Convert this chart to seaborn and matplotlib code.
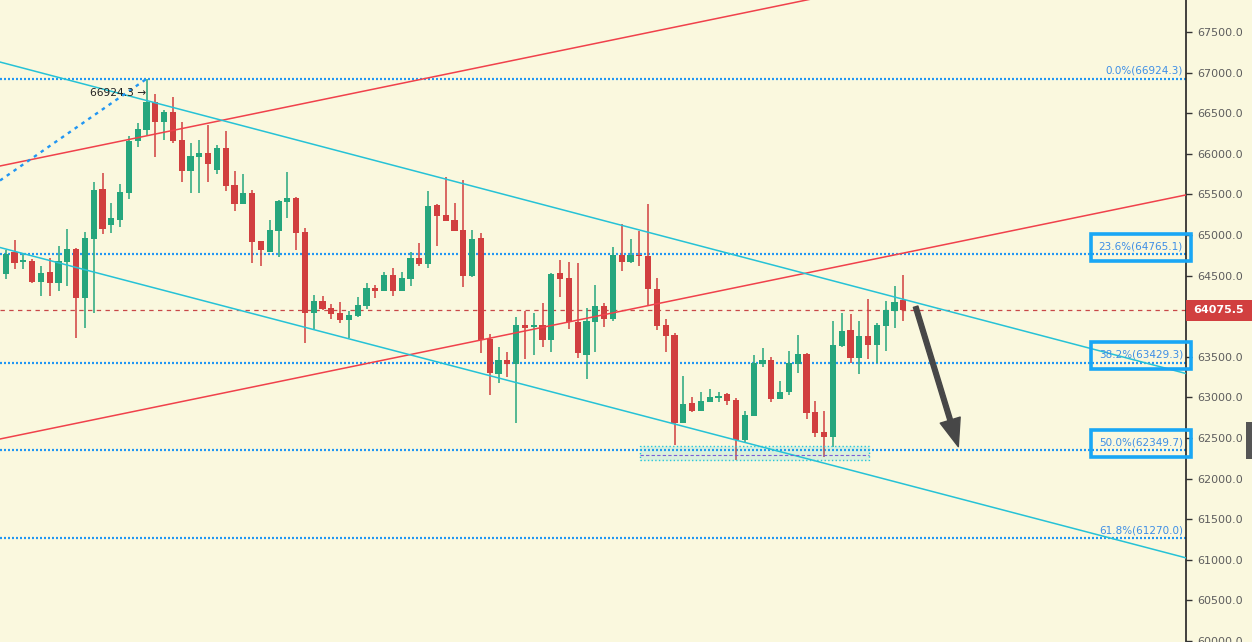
import numpy as np
import pandas as pd
import matplotlib
matplotlib.use("Agg")
import matplotlib.pyplot as plt
from matplotlib.patches import Rectangle, FancyArrowPatch
import seaborn as sns

# ---------------- data ----------------
first_index = -1
opens = [64115, 64520, 64791, 64667, 64680, 64425, 64544, 64413, 64671, 64828,
         64228, 64954, 65566, 65127, 65188, 65521, 66154, 66293, 66634, 66395,
         66515, 66170, 65792, 65964, 66006, 65804, 66071, 65612, 65384, 65517,
         64926, 64793, 65052, 65410, 65459, 65037, 64043, 64187, 64101, 64037,
         63957, 64006, 64129, 64347, 64314, 64507, 64314, 64462, 64717, 64643,
         65369, 65246, 65185, 65062, 64499, 64963, 63715, 63284, 63461, 63408,
         63892, 63866, 63892, 63707, 64532, 64470, 63932, 63526, 63932, 64126,
         63962, 64754, 64671, 64754, 64741, 64335, 63892, 63768, 62681, 62927,
         62836, 62947, 62996, 63042, 62968, 62475, 62771, 63411, 63461, 62977,
         63063, 63411, 63535, 62824, 62574, 62516, 63637, 63830, 63481, 63756,
         63645, 63883, 64068, 64200]
highs = [64560, 64815, 64938, 64778, 64704, 64618, 64717, 64865, 65074, 64840,
         65037, 65653, 65767, 65398, 65624, 66219, 66383, 66924.3, 66733, 66539,
         66703, 66388, 66129, 66176, 66351, 66108, 66277, 65786, 65747, 65548,
         64926, 65185, 65436, 65770, 65466, 65092, 64259, 64249, 64146, 64171,
         64064, 64236, 64405, 64388, 64544, 64593, 64541, 64794, 64898, 65542,
         65378, 65718, 65394, 65677, 65062, 65028, 63781, 63617, 63555, 63994,
         64068, 64043, 64159, 64536, 64692, 64671, 64652, 64097, 64384, 64159,
         64856, 65135, 64947, 65053, 65382, 64467, 63966, 63789, 63264, 63009,
         63070, 63100, 63070, 63050, 62989, 62833, 63522, 63605, 63494, 63202,
         63575, 63769, 63543, 62959, 62833, 63945, 64043, 64022, 63941, 64208,
         63920, 64187, 64376, 64507]
lows = [64050, 64458, 64581, 64581, 64409, 64252, 64252, 64310, 64372, 63732,
        63851, 64036, 65009, 65021, 65102, 65447, 66080, 66228, 65964, 66170,
        66137, 65656, 65514, 65514, 65656, 65748, 65538, 65299, 65379, 64651,
        64622, 64793, 64723, 65206, 64815, 63676, 63839, 64076, 63969, 63920,
        63728, 63994, 64085, 64224, 64314, 64249, 64314, 64372, 64622, 64597,
        64865, 65176, 65053, 64363, 64479, 63551, 63026, 63181, 63255, 62681,
        63469, 63522, 63624, 63556, 64240, 63846, 63481, 63227, 63563, 63871,
        63941, 64560, 64651, 64622, 64138, 63830, 63563, 62414, 62681, 62824,
        62836, 62947, 62943, 62906, 62229, 62455, 62771, 63378, 62947, 62977,
        63030, 63304, 62738, 62509, 62262, 62393, 63624, 63420, 63285, 63469,
        63420, 63575, 63851, 63945]
closes = [64520, 64766, 64655, 64692, 64425, 64532, 64413, 64680, 64828, 64228,
          64963, 65554, 65078, 65209, 65530, 66161, 66302, 66638, 66395, 66515,
          66161, 65792, 65973, 66006, 65878, 66071, 65607, 65386, 65517, 64917,
          64815, 65062, 65419, 65459, 65028, 64043, 64187, 64092, 64031, 63959,
          64015, 64138, 64347, 64314, 64507, 64314, 64470, 64717, 64643, 65357,
          65238, 65176, 65053, 64499, 64951, 63703, 63297, 63461, 63408, 63892,
          63851, 63892, 63703, 64520, 64462, 63929, 63550, 63941, 64126, 63962,
          64754, 64671, 64754, 64741, 64331, 63883, 63760, 62681, 62915, 62836,
          62956, 63001, 63021, 62959, 62475, 62783, 63420, 63461, 62977, 63070,
          63420, 63535, 62812, 62565, 62516, 63645, 63818, 63481, 63756, 63645,
          63892, 64076, 64175, 64075.5]

fib_levels = [66924.3, 64765.1, 63429.3, 62349.7, 61270.0]
fib_labels = ["0.0%(66924.3)", "23.6%(64765.1)", "38.2%(63429.3)",
              "50.0%(62349.7)", "61.8%(61270.0)"]
highlighted_levels = [64765.1, 63429.3, 62349.7]
last_price = 64075.5
swing_high_label = "66924.3 \u2192"
ytick_values = list(range(60000, 68000, 500))
hidden_tick = 64000  # covered by the last-price tag

# trend lines: (name, [x0, x1], [y0, y1]) in bar-index / price units
trend_names = ["red_upper", "red_lower", "cyan_upper", "cyan_lower"]
trend_x = [[-1, 135], [-1, 135], [-1, 135], [-1, 135]]
trend_y = [[65842, 68875], [62480, 65513], [67140, 63269], [64856, 60999]]
anchor_x = [-0.65, 15.9]
anchor_y = [65671, 66915]
zone_x = [72.1, 98.1]
zone_y = [62229, 62402]
arrow_start = (103.4, 64117)
arrow_end = (108.25, 62393)

# ---------------- style ----------------
sns.set_theme(style="white")
plt.rcParams["font.family"] = ["DejaVu Sans"]
BG = "#faf8de"
GREEN = "#26a67d"
RED = "#d13f3f"
FIB = "#2196f3"
FIB_TXT = "#3d8ee6"
HILITE = "#19a7f5"

W, H = 1252, 642
AX_R = 1186
fig = plt.figure(figsize=(W / 100, H / 100), dpi=100, facecolor=BG)
ax = fig.add_axes([0, 0, AX_R / W, 1], facecolor=BG)

x = np.arange(len(opens)) + first_index
o = np.array(opens, float)
c = np.array(closes, float)
hi = np.array(highs, float)
lo = np.array(lows, float)
up = c >= o
colors = np.where(up, GREEN, RED)

# fib lines
for lv in fib_levels:
    ax.axhline(lv, color=FIB, lw=1.6, linestyle=(0, (0.9, 0.9)), zorder=1)

# trend lines via seaborn
rows = []
for n, xs, ys in zip(trend_names, trend_x, trend_y):
    for xx, yy in zip(xs, ys):
        rows.append({"x": xx, "y": yy, "line": n})
df = pd.DataFrame(rows)
pal = {"red_upper": "#f0414b", "red_lower": "#f0414b",
       "cyan_upper": "#26c2d6", "cyan_lower": "#26c2d6"}
sns.lineplot(data=df, x="x", y="y", hue="line", units="line", estimator=None,
             palette=pal, legend=False, lw=1.1, sort=False, ax=ax, zorder=4)
ax.set_xlabel("")
ax.set_ylabel("")

# last price dashed line
ax.axhline(last_price, color="#c84848", lw=0.9, dashes=(3.5, 3.5), zorder=2)

# candles
ax.vlines(x, lo, hi, colors=colors, lw=1.1, zorder=3)
heights = np.maximum(np.abs(c - o), 15)
bottoms = np.minimum(o, c)
ax.bar(x, heights, bottom=bottoms, width=0.72, color=colors, linewidth=0, zorder=3.5)

# anchor dashed line from swing
ax.plot(anchor_x, anchor_y, color=FIB, lw=1.7, linestyle=(0, (1.5, 2.0)), zorder=4)
ax.text(anchor_x[1] + 0.05, highs[17 - first_index] + 10, swing_high_label, ha="right", va="center",
        fontsize=7.7, color="#222222", zorder=6)

# zone rectangle
ax.add_patch(Rectangle((zone_x[0], zone_y[0]), zone_x[1] - zone_x[0], zone_y[1] - zone_y[0],
                       facecolor=(0.15, 0.78, 0.85, 0.15), edgecolor="#26c6da",
                       linestyle=":", lw=1.0, zorder=5))
ax.hlines((zone_y[0] + zone_y[1]) / 2 - 20, zone_x[0], zone_x[1], color="#7b5fd6",
          lw=0.8, linestyle=(0, (3, 2)), zorder=5)

# projection arrow
ax.add_patch(FancyArrowPatch(arrow_start, arrow_end,
                             arrowstyle="simple,head_width=0.75,head_length=1.0,tail_width=0.17",
                             mutation_scale=20, color="#474747", shrinkA=0, shrinkB=0, zorder=6))

# fib labels
yt = ax.get_yaxis_transform()
for lv, lbl in zip(fib_levels, fib_labels):
    ax.annotate(lbl, xy=(1, lv), xycoords=yt, xytext=(-2.2, 2.0), textcoords="offset points",
                ha="right", va="bottom", fontsize=7.5, color=FIB_TXT, zorder=7)

# highlight boxes around selected labels
for lv in highlighted_levels:
    x0 = 1091 / AX_R
    x1 = 1191 / AX_R
    ax.add_patch(Rectangle((x0, lv - 85), x1 - x0, 335, transform=yt, fill=False,
                           edgecolor=HILITE, lw=2.6, clip_on=False, zorder=8))

# axes / ticks
ax.set_xlim(-0.648, (AX_R - 5.7) / 8.8)
ax.set_ylim(67894 - 12.315 * H, 67894)
ax.set_xticks([])
ax.yaxis.tick_right()
ax.set_yticks(ytick_values)
ax.set_yticklabels(["" if v == hidden_tick else f"{v:.1f}" for v in ytick_values])
ax.tick_params(axis="y", direction="out", length=4.5, width=1, color="#333333",
               labelsize=8, labelcolor="#5d5d5d", pad=3.5)
for s in ["top", "left", "bottom"]:
    ax.spines[s].set_visible(False)
ax.spines["right"].set_color("#222222")
ax.spines["right"].set_linewidth(1.2)

# last price tag
ax.add_patch(Rectangle((1.0, last_price - 130), (W - AX_R) / AX_R, 260, transform=yt,
                       facecolor=RED, edgecolor="none", clip_on=False, zorder=9))
ax.text((AX_R + 33) / AX_R, last_price, f"{last_price:.1f}", transform=yt, ha="center",
        va="center", fontsize=8, color="white", fontweight="bold", zorder=10, clip_on=False)

# small handle at right edge
fig.patches.append(Rectangle((1246 / W, 1 - 459 / H), 6 / W, 37 / H, transform=fig.transFigure,
                             facecolor="#555555", edgecolor="none"))

fig.savefig("out.png", dpi=100, facecolor=BG)
